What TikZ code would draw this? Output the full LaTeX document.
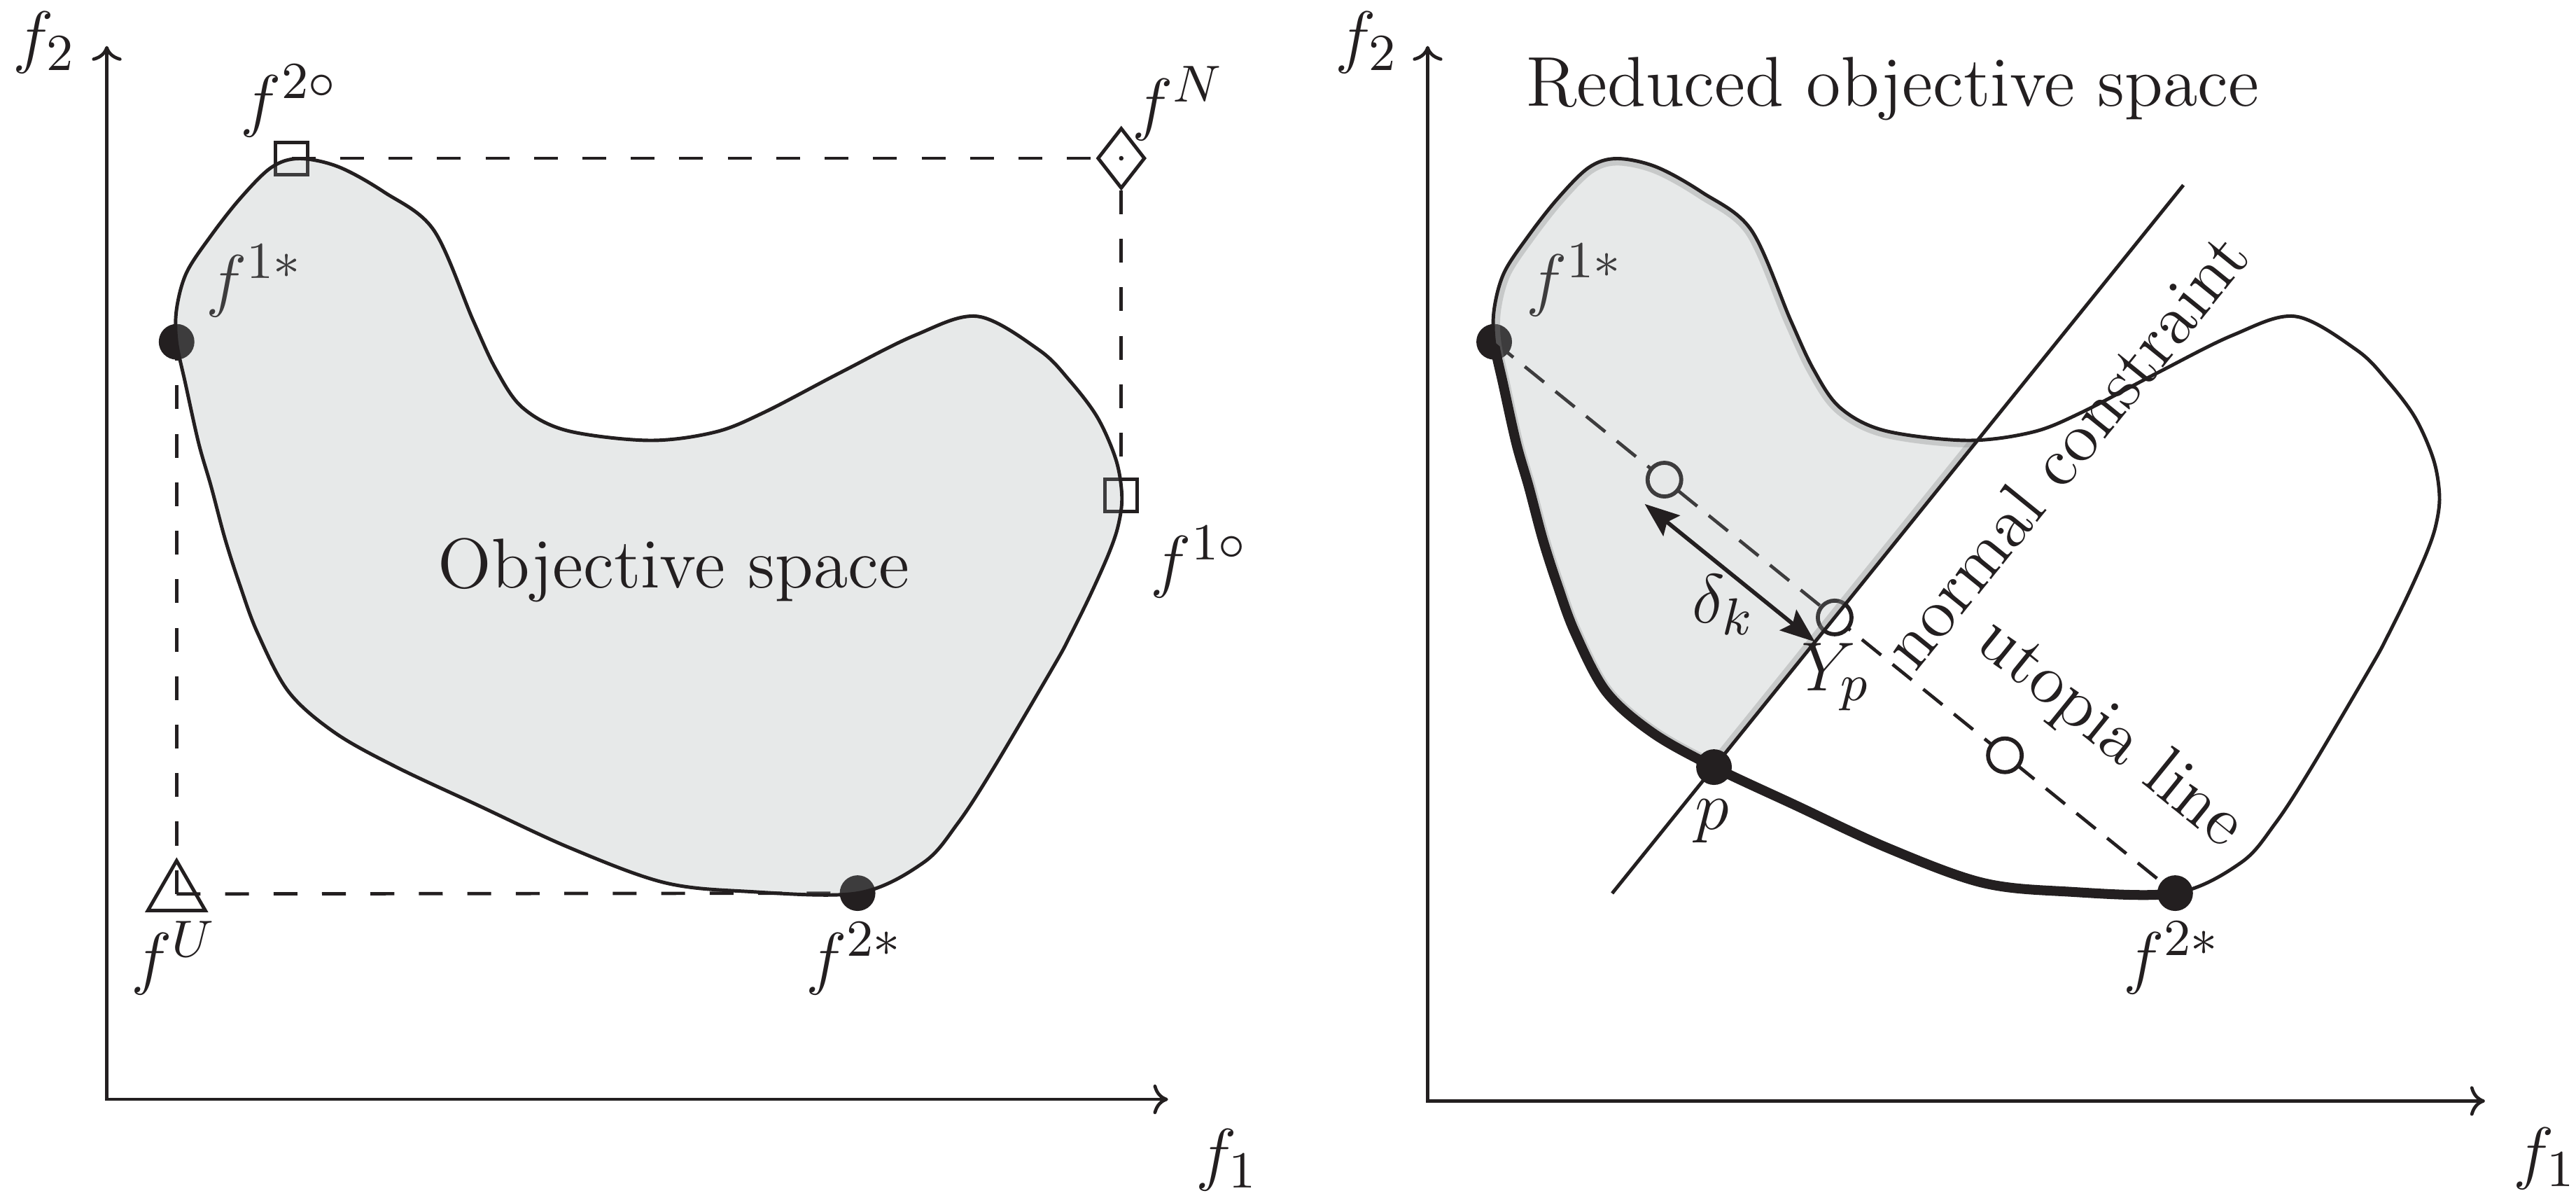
\documentclass[tikz,border=0pt]{standalone}
\usetikzlibrary{shapes.geometric,arrows.meta,calc}

\definecolor{ink}{RGB}{35,31,32}
\definecolor{spacegray}{RGB}{150,158,158}

\tikzset{
  every node/.style={text=ink, font=\fontsize{12.2}{14}\selectfont},
  axis/.style={draw=ink, line width=0.57pt, {To[length=0.9mm,width=1.8mm]}-{To[length=0.9mm,width=1.8mm]}},
  guide/.style={draw=ink, line width=0.57pt, dash pattern=on 1.45mm off 1.5mm},
  utopia/.style={draw=ink, line width=0.57pt, dash pattern=on 1.5mm off 0.9mm},
  outline/.style={draw=ink, line width=0.6pt},
  front/.style={draw=ink, line width=1.7pt},
  region/.style={fill=spacegray, fill opacity=0.23},
  halo/.style={draw=gray, draw opacity=0.3, line width=2.4pt},
  dotmark/.style={circle, fill=ink, minimum size=2.17mm, inner sep=0pt},
  boxmark/.style={rectangle, draw=ink, line width=0.6pt, minimum size=1.96mm, inner sep=0pt},
  diamark/.style={diamond, draw=ink, line width=0.6pt, minimum width=2.9mm, minimum height=3.7mm, inner sep=0pt},
  trimark/.style={regular polygon, regular polygon sides=3, draw=ink, line width=0.6pt, minimum size=4.04mm, inner sep=0pt},
  ringmark/.style={circle, draw=ink, fill=white, line width=0.7pt, minimum size=2.05mm, inner sep=0pt},
  deltaarrow/.style={draw=ink, line width=0.7pt, {Stealth[length=2.1mm,width=1.6mm,inset=0.35mm]}-{Stealth[length=2.1mm,width=1.6mm,inset=0.35mm]}},
}

% outline of the objective space
\newcommand{\blobpath}{plot[smooth cycle, tension=0.55] coordinates {
  (107.5,208) (107.5,188) (113.5,166) (128,144) (146,121) (165,102) (182,96.5)
  (206,101.5) (234,117) (264,140) (288,195) (302,225) (318,248) (345,262)
  (395,268) (435,263) (465,251) (511,227) (557,204) (595,192.5) (632.5,213)
  (651,231.5) (668,254) (679.3,279.8) (682.9,302) (680.7,319.6) (675,336.6)
  (663.7,362) (651,387.7) (641.7,404.8) (604,468.7) (582.7,501.4) (562,525)
  (522,543.5) (455,542.5) (404,537) (347,516) (290,489.6) (241.3,466.8)
  (204,446) (175.7,421) (156.7,385) (146,356) (137,328) (128.5,296) (121,270)
  (113,234)}}

\begin{document}
\begin{tikzpicture}[x=0.1mm, y=-0.1mm]
  \useasboundingbox (0,0) rectangle (1568,729);

  % left: objective space
  \coordinate (oL) at (65,669);
  \coordinate (yL) at (65,28);
  \coordinate (xL) at (711,669);
  \node[trimark] (fU) at (107.5,544) {};
  \node[dotmark] (f1sL) at (107.5,208) {};
  \node[dotmark] (f2sL) at (522,543.5) {};
  \node[boxmark] (f2o) at (177.5,96.3) {};
  \node[diamark] (fN) at (682.5,96.3) {};
  \node[boxmark] (f1o) at (682.5,301.5) {};
  \draw[guide] (fU.center) -- (f1sL.center);
  \draw[guide] (fU.center) -- (f2sL.center);
  \draw[guide] (f2o.center) -- (fN.west);
  \draw[guide] (fN.south) -- (f1o.north);
  \fill[ink] (fN.center) circle (0.14mm);
  \node (f1sLlbl) at (155,171) {$f^{1*}$};
  \fill[region] \blobpath;
  \draw[outline] \blobpath;
  \draw[axis] (yL) -- (oL) -- (xL);
  \node (f2axL) at (27,26) {$f_2$};
  \node (f1axL) at (747,706) {$f_1$};
  \node (f2olbl) at (176,61.5) {$f^{2\circ}$};
  \node (fNlbl) at (717,63) {$f^N$};
  \node (f1olbl) at (730,342) {$f^{1\circ}$};
  \node (fUlbl) at (106,583) {$f^U$};
  \node (f2sLlbl) at (520,583.5) {$f^{2*}$};
  \node (objlbl) at (410,347) {Objective space};

  % right: reduced objective space
  \coordinate (oR) at (869,670);
  \coordinate (yR) at (869,28);
  \coordinate (xR) at (1512.6,670);
  \node[dotmark] (f1sR) at (909.5,208) {};
  \node[dotmark] (f2sR) at (1324,543.5) {};
  \draw[utopia] (f1sR.center) -- (f2sR.center);
  \node[ringmark] (c1) at ($(f1sR.center)!0.25!(f2sR.center)$) {};
  \node[ringmark] (Yp) at ($(f1sR.center)!0.5!(f2sR.center)$) {};
  \node[ringmark] (c3) at ($(f1sR.center)!0.75!(f2sR.center)$) {};
  \node (f1sRlbl) at (958.5,170.5) {$f^{1*}$};
  \coordinate (p) at (1043.3,466.8);
  \coordinate (nb) at ($(p)!-0.844!(Yp.center)$);
  \coordinate (nt) at ($(p)!3.89!(Yp.center)$);
  \begin{scope}
    \clip ($(p)!-3!(Yp.center)$) -- ($(p)!6!(Yp.center)$) -- (780,-79) -- (780,740) -- cycle;
    \fill[region, shift={(802,0)}] \blobpath;
    \clip[shift={(802,0)}] \blobpath;
    \draw[halo] (nb) -- (nt);
    \draw[halo, shift={(802,0)}] \blobpath;
  \end{scope}
  \draw[outline, shift={(802,0)}] \blobpath;
  \begin{scope}
    \clip ($(f1sR.center)!-0.5!(f2sR.center)$) -- ($(f1sR.center)!1.5!(f2sR.center)$) -- (700,800) -- cycle;
    \draw[front, shift={(802,0)}] \blobpath;
  \end{scope}
  \draw[outline] (nb) -- (nt);
  \node[dotmark] (pdot) at (p) {};
  \draw[deltaarrow] ([shift={(-12,14.8)}]c1.center) -- ([shift={(-12,14.8)}]Yp.center);
  \draw[axis] (yR) -- (oR) -- (xR);
  \node (f2axR) at (832,26) {$f_2$};
  \node (f1axR) at (1549,705) {$f_1$};
  \node (redlbl) at (1152,54) {Reduced objective space};
  \node (f2sRlbl) at (1322,583) {$f^{2*}$};
  \node (plbl) at (1042,499.5) {$p$};
  \node (Yplbl) at (1117.4,412) {$Y_p$};
  \node (dlbl) at (1049,368) {$\delta_k$};
  \node[rotate=51] (nclbl) at (1257,274) {normal constraint};
  \node[rotate=-39] (ullbl) at (1284,447) {utopia line};
\end{tikzpicture}
\end{document}
